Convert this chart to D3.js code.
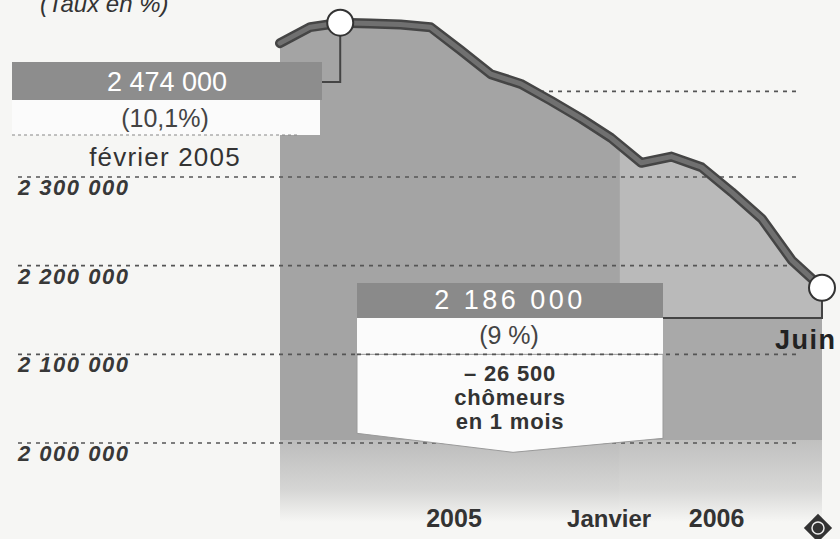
<!DOCTYPE html>
<html>
<head>
<meta charset="utf-8">
<script src="https://cdn.jsdelivr.net/npm/d3@7"></script>
<style>
body { margin: 0; background: #f6f6f4; }
svg { display: block; font-family: "Liberation Sans", Arial, sans-serif; }
</style>
</head>
<body>
<svg width="840" height="539"></svg>
<script>
/////////////////////////////// DATA ///////////////////////////////

// demandeurs d'emploi, monthly, Dec 2004 -> Jun 2006
var months = ['déc. 2004', 'janv. 2005', 'févr. 2005', 'mars 2005', 'avr. 2005', 'mai 2005',
              'juin 2005', 'juil. 2005', 'août 2005', 'sept. 2005', 'oct. 2005', 'nov. 2005',
              'déc. 2005', 'janv. 2006', 'févr. 2006', 'mars 2006', 'avr. 2006', 'mai 2006', 'juin 2006'];
var chomeurs = [2451000, 2469000, 2474000, 2473000, 2472000, 2469000,
                2443000, 2416000, 2405000, 2386000, 2366000, 2344000,
                2316000, 2323000, 2311000, 2283000, 2253000, 2206000, 2175000];

var gridValues = [2400000, 2300000, 2200000, 2100000, 2000000];
var tickLabels = ['', '2 300 000', '2 200 000', '2 100 000', '2 000 000'];

// bottom labels, placed on the month index axis
var axisLabels = ['2005', 'Janvier', '2006'];
var axisLabelAt = [5.78, 10.93, 14.5];
var yearBreak = 11.29;   // where the 2006 band starts

var peakIndex = 2, lastIndex = months.length - 1;

/////////////////////////////// SETUP ///////////////////////////////

var svg = d3.select("svg"),
    W = +svg.attr("width"),
    H = +svg.attr("height");

var x = d3.scaleLinear().domain([0, months.length - 1]).range([280, 822]);
var y = d3.scaleLinear().domain([2000000, 2300000]).range([443, 177]);
var baseY = 522;

var gridLeft = 18, gridRight = 800;

var defs = svg.append("defs");
var fade = defs.append("linearGradient").attr("id", "fade")
    .attr("gradientUnits", "userSpaceOnUse")
    .attr("x1", 0).attr("x2", 0).attr("y1", 440).attr("y2", baseY);
fade.append("stop").attr("offset", 0).attr("stop-color", "#f6f6f4").attr("stop-opacity", 0.3);
fade.append("stop").attr("offset", 0.6).attr("stop-color", "#f6f6f4").attr("stop-opacity", 0.6);
fade.append("stop").attr("offset", 1).attr("stop-color", "#f6f6f4").attr("stop-opacity", 1);

var area = d3.area()
    .x(function(d, i) { return x(i); })
    .y0(baseY)
    .y1(function(d) { return y(d); });

var line = d3.line()
    .x(function(d, i) { return x(i); })
    .y(function(d) { return y(d); });

defs.append("clipPath").attr("id", "areaClip")
    .append("path").attr("d", area(chomeurs));

// box 2 geometry (annotation of the last point)
var b2 = {x0: 357, x1: 663, top: 283, mid: 318, low: y(2100000)};

/////////////////////////////// DRAW ///////////////////////////////

// 2 400 000 line sits behind the area
svg.append("line")
    .attr("x1", gridLeft).attr("x2", gridRight - 3)
    .attr("y1", y(gridValues[0]) + 3).attr("y2", y(gridValues[0]) + 3)
    .attr("stroke", "#555").attr("stroke-width", 1.6)
    .attr("stroke-dasharray", "4,5");

// area with year bands
var bands = svg.append("g").attr("clip-path", "url(#areaClip)");
bands.append("rect")
    .attr("x", x(0) - 5).attr("y", 0)
    .attr("width", x(yearBreak) - x(0) + 5).attr("height", baseY)
    .attr("fill", "#a4a4a4");
bands.append("rect")
    .attr("x", x(yearBreak)).attr("y", 0)
    .attr("width", x(lastIndex) - x(yearBreak)).attr("height", b2.mid)
    .attr("fill", "#bababa");
bands.append("rect")
    .attr("x", x(yearBreak)).attr("y", b2.mid)
    .attr("width", x(lastIndex) - x(yearBreak)).attr("height", baseY - b2.mid)
    .attr("fill", "#a9a9a9");
bands.append("rect")
    .attr("x", 0).attr("y", 440).attr("width", W).attr("height", baseY - 440)
    .attr("fill", "url(#fade)");

// the other gridlines, over the area
var grid = svg.append("g").selectAll("g")
    .data(gridValues.slice(1)).enter().append("g");
grid.append("line")
    .attr("x1", gridLeft).attr("x2", gridRight)
    .attr("y1", function(d) { return y(d); })
    .attr("y2", function(d) { return y(d); })
    .attr("stroke", "#555").attr("stroke-width", 1.6)
    .attr("stroke-dasharray", "4,5");
grid.append("text")
    .attr("x", gridLeft)
    .attr("y", function(d) { return y(d) + 18; })
    .attr("font-size", 22).attr("font-weight", "bold").attr("font-style", "italic")
    .attr("letter-spacing", 1.5)
    .attr("fill", "#383838")
    .text(function(d, i) { return tickLabels[i + 1]; });

// title remnant cut at the top
svg.append("text")
    .attr("x", 40).attr("y", 12)
    .attr("font-size", 24).attr("font-style", "italic")
    .attr("fill", "#333")
    .text("(Taux en %)");

// the curve
svg.append("path").datum(chomeurs)
    .attr("d", line)
    .attr("fill", "none").attr("stroke", "#454545")
    .attr("stroke-width", 10).attr("stroke-linejoin", "round").attr("stroke-linecap", "round");
svg.append("path").datum(chomeurs)
    .attr("d", line)
    .attr("fill", "none").attr("stroke", "#707070")
    .attr("stroke-width", 5).attr("stroke-linejoin", "round").attr("stroke-linecap", "round");

// box 1 : février 2005
var px = x(peakIndex), py = y(chomeurs[peakIndex]);
svg.append("rect").attr("x", 12).attr("y", 62).attr("width", 310).attr("height", 38)
    .attr("fill", "#8d8d8d");
svg.append("rect").attr("x", 12).attr("y", 100).attr("width", 308).attr("height", 35)
    .attr("fill", "#fbfbfb");
svg.append("line").attr("x1", 12).attr("x2", 300).attr("y1", 135).attr("y2", 135)
    .attr("stroke", "#888").attr("stroke-width", 1.2).attr("stroke-dasharray", "3,3");
svg.append("polyline")
    .attr("points", [[px, py + 12], [px, 82], [322, 82]].join(" "))
    .attr("fill", "none").attr("stroke", "#444").attr("stroke-width", 2);
svg.append("text").attr("x", 167).attr("y", 91)
    .attr("text-anchor", "middle").attr("font-size", 27).attr("fill", "#fff")
    .text("2 474 000");
svg.append("text").attr("x", 165).attr("y", 127)
    .attr("text-anchor", "middle").attr("font-size", 25).attr("fill", "#444")
    .text("(10,1%)");
svg.append("text").attr("x", 165).attr("y", 166)
    .attr("text-anchor", "middle").attr("font-size", 26).attr("letter-spacing", 1.2).attr("fill", "#333")
    .text("février 2005");

// box 2 : juin 2006
var lx = x(lastIndex), ly = y(chomeurs[lastIndex]);
svg.append("rect").attr("x", b2.x0).attr("y", b2.top)
    .attr("width", b2.x1 - b2.x0).attr("height", b2.mid - b2.top)
    .attr("fill", "#8a8a8a");
svg.append("rect").attr("x", b2.x0).attr("y", b2.mid)
    .attr("width", b2.x1 - b2.x0).attr("height", b2.low - b2.mid)
    .attr("fill", "#fbfbfb");
svg.append("path")
    .attr("d", "M" + [b2.x0, b2.low] + "L" + [b2.x1, b2.low] + "L" + [b2.x1, b2.low + 84] +
               "L" + [513, b2.low + 98] + "L" + [b2.x0, b2.low + 79] + "Z")
    .attr("fill", "#fbfbfb").attr("stroke", "#9a9a9a").attr("stroke-width", 1);
svg.append("line").attr("x1", b2.x0).attr("x2", b2.x1)
    .attr("y1", b2.low).attr("y2", b2.low)
    .attr("stroke", "#555").attr("stroke-width", 1.6).attr("stroke-dasharray", "4,5");
svg.append("polyline")
    .attr("points", [[b2.x1, b2.mid], [lx, b2.mid], [lx, ly + 12]].join(" "))
    .attr("fill", "none").attr("stroke", "#444").attr("stroke-width", 2);
svg.append("text").attr("x", 510).attr("y", 309)
    .attr("text-anchor", "middle").attr("font-size", 27).attr("letter-spacing", 3.5).attr("fill", "#fff")
    .text("2 186 000");
svg.append("text").attr("x", 509).attr("y", 344)
    .attr("text-anchor", "middle").attr("font-size", 25).attr("fill", "#444")
    .text("(9 %)");
var note = ["– 26 500", "chômeurs", "en 1 mois"];
svg.append("g").selectAll("text").data(note).enter().append("text")
    .attr("x", 510).attr("y", function(d, i) { return 381 + i * 24; })
    .attr("text-anchor", "middle").attr("font-size", 22).attr("font-weight", "bold")
    .attr("letter-spacing", 0.8)
    .attr("fill", "#333")
    .text(function(d) { return d; });

// circles on the peak and the last point
svg.append("g").selectAll("circle")
    .data([peakIndex, lastIndex]).enter().append("circle")
    .attr("cx", function(i) { return x(i); })
    .attr("cy", function(i) { return y(chomeurs[i]); })
    .attr("r", 13)
    .attr("fill", "#fff").attr("stroke", "#333").attr("stroke-width", 2);

svg.append("text").attr("x", 775).attr("y", 349)
    .attr("font-size", 27).attr("font-weight", "bold").attr("letter-spacing", 1.5)
    .attr("fill", "#222").text("Juin");

// bottom labels
svg.append("g").selectAll("text").data(axisLabels).enter().append("text")
    .attr("x", function(d, i) { return x(axisLabelAt[i]); })
    .attr("y", 527)
    .attr("text-anchor", "middle")
    .attr("font-size", function(d) { return d == 'Janvier' ? 24 : 25; })
    .attr("font-weight", "bold").attr("fill", "#333")
    .text(function(d) { return d; });

// little logo
var logo = svg.append("g").attr("transform", "translate(818,528)");
logo.append("rect").attr("x", -10).attr("y", -10).attr("width", 20).attr("height", 20)
    .attr("transform", "rotate(45)").attr("fill", "#333");
logo.append("circle").attr("r", 6).attr("fill", "none").attr("stroke", "#eee").attr("stroke-width", 1.5);
</script>
</body>
</html>
